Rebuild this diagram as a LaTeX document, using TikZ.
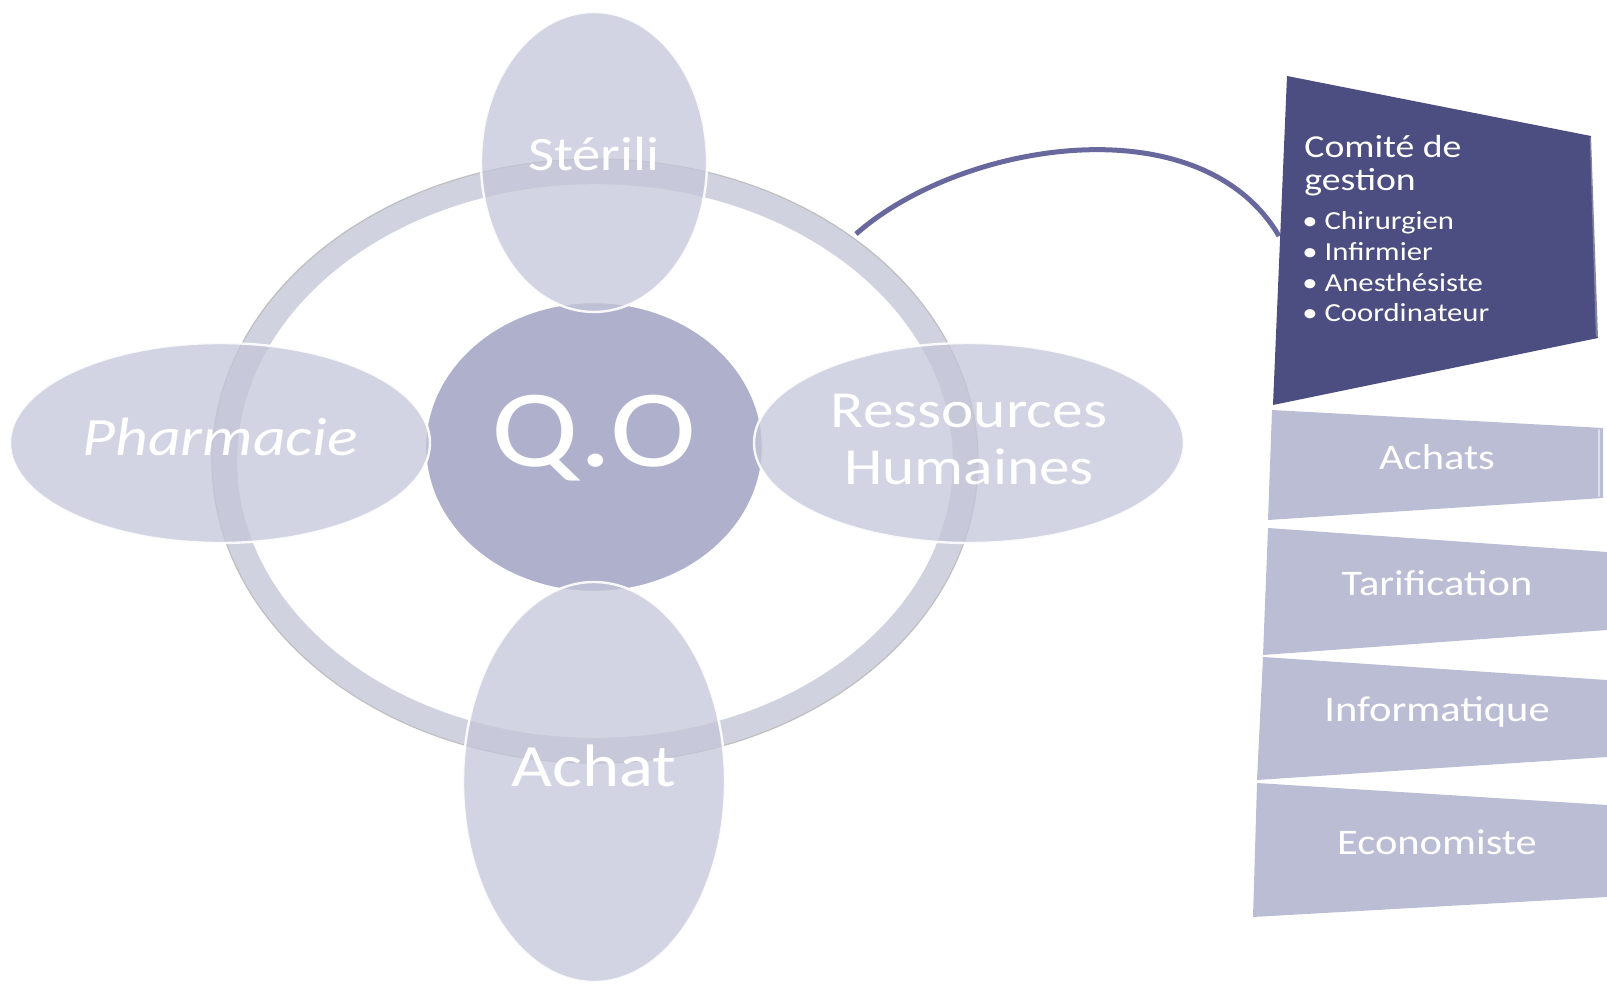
\documentclass[tikz,border=0pt]{standalone}
\usepackage{fontspec}
\setmainfont{Carlito}[FakeStretch=1.18]
\usetikzlibrary{shapes.geometric,positioning}
\definecolor{anneaucol}{RGB}{208,210,224}
\definecolor{bullecol}{RGB}{196,198,217}
\definecolor{centrecol}{RGB}{174,176,204}
\definecolor{marine}{RGB}{76,77,128}
\definecolor{voletcol}{RGB}{187,189,213}
\definecolor{liencol}{RGB}{104,104,158}
\tikzset{
	bulle/.style={ellipse, fill=bullecol, fill opacity=0.75, text opacity=1, draw=white, draw opacity=0.9, line width=1.2pt, inner sep=0pt, text=white},
	centre/.style={ellipse, fill=centrecol, draw=white, line width=1.2pt, inner sep=0pt},
	volet/.style={fill=voletcol},
	voletbord/.style={draw=white, opacity=0.5, line width=1.2pt},
	voletxt/.style={text=white, font=\fontsize{18}{20}\selectfont, inner sep=0pt},
	lien/.style={draw=liencol, line width=2.5pt, line cap=butt}
}
\begin{document}
\begin{tikzpicture}[x=0.5pt,y=-0.5pt, line join=round, line cap=round]
	\useasboundingbox (0,0) rectangle (1607,984);
	% anneau
	\fill[anneaucol, even odd rule] (595,461) ellipse [x radius=383, y radius=302] (595,461) ellipse [x radius=357, y radius=276];
	\draw[gray!50, line width=0.6pt] (595,461) ellipse [x radius=383, y radius=302];
	\draw[white, line width=0.8pt] (595,461) ellipse [x radius=357, y radius=276];
	\coordinate (anneau) at (856,234);
	% centre
	\node[centre, minimum width=169pt, minimum height=145pt] (qo) at (594,447) {};
	\node[text=white, font=\fontsize{55}{57}\selectfont, inner sep=0pt] (qotxt) at (594,438) {Q.O};
	% satellites
	\node[bulle, minimum width=113pt, minimum height=150pt, font=\fontsize{24}{26}\selectfont] (sterili) at (594,162) {\raisebox{8pt}{Stérili}};
	\node[bulle, minimum width=210pt, minimum height=100pt, font=\itshape\fontsize{27}{29}\selectfont] (pharma) at (220,443) {\raisebox{6pt}{Pharmacie}};
	\node[bulle, minimum width=215pt, minimum height=100pt, font=\fontsize{26}{28.5}\selectfont, align=center] (rh) at (969,443) {\raisebox{4pt}{Ressources}\\\raisebox{4pt}{Humaines}};
	\node[bulle, minimum width=131pt, minimum height=200pt] (achat) at (594,782) {};
	\node[text=white, font=\fontsize{30}{32}\selectfont, inner sep=0pt] (achattxt) at (594,766) {Achat};
	% volet principal
	\coordinate (comitept) at (1279,236);
	\draw[lien] (anneau) .. controls (960,142) and (1200,102) .. (comitept);
	\fill[marine] (1287,76) -- (1591,136) -- (1598,338) -- (1273,405) -- cycle;
	\draw[voletbord, opacity=0.3] (1591,138) -- (1597,336);
	\node[text=white, anchor=north west, align=left, inner sep=0pt, font=\fontsize{16}{16.5}\selectfont] (comite) at (1304,135) {Comité de\\gestion};
	\node[text=white, anchor=north west, align=left, inner sep=0pt, font=\fontsize{13}{15.4}\selectfont] (membres) at (1302,211) {\textbullet\ Chirurgien\\\textbullet\ Infirmier\\\textbullet\ Anesthésiste\\\textbullet\ Coordinateur};
	% volets
	\fill[volet] (1272,410) -- (1603,428) -- (1603,498) -- (1268,520) -- cycle;
	\draw[voletbord] (1599,430) -- (1599,496);
	\node[voletxt] (achats) at (1437,457) {Achats};
	\fill[volet] (1268,528) -- (1607,552) -- (1607,630) -- (1263,655) -- cycle;
	\node[voletxt] (tarif) at (1437,583) {Tarification};
	\fill[volet] (1263,657) -- (1607,680) -- (1607,757) -- (1257,780) -- cycle;
	\node[voletxt] (info) at (1437,712) {Informatique};
	\fill[volet] (1257,783) -- (1607,805) -- (1607,897) -- (1253,917) -- cycle;
	\node[voletxt] (eco) at (1437,842) {Economiste};
\end{tikzpicture}
\end{document}
